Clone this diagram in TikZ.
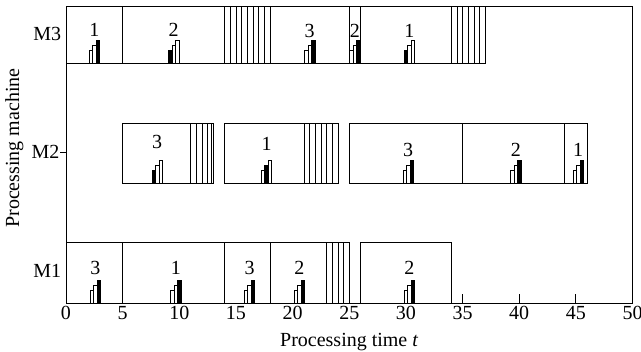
\documentclass[tikz,border=0pt]{standalone}
\usepackage{fontspec}
\setmainfont{Liberation Serif}
% Job mark: number above a small three-bar glyph, one bar filled.
% #1 name, #2 time centre, #3 row bottom, #4 job number, #5 filled bar, #6 label rise
\newcommand\jobmark[6]{%
  \node[lbl] (#1) at (#2,#3+#6) {#4};
  \begin{scope}[shift={(#2,#3)}, x=1pt]
    \foreach \i/\h in {1/13,2/18,3/23} {
      \pgfmathsetmacro\xl{-5.25+3.5*(\i-1)}
      \ifnum\i=#5\relax\def\fc{black}\else\def\fc{white}\fi
      \filldraw[barline, fill=\fc] (\xl,0) rectangle ++(3.5,\h);
    }
  \end{scope}
}
\begin{document}
\begin{tikzpicture}[x=11.33pt, y=1pt, line width=0.8pt,
  lbl/.style={font=\fontsize{20}{24}\selectfont, inner sep=0pt},
  barline/.style={line width=0.6pt},
  hatchline/.style={line width=0.7pt}]
\useasboundingbox (-5.825,-49) rectangle (50.75,303);

% axes frame and ticks
\draw (0,0) rectangle (50,297);
\foreach \t in {35,40,45} \draw (\t,0) -- (\t,9);
\draw (0,151) -- (-0.53,151);
\foreach \t in {0,5,...,50} \node[lbl] (tick\t) at (\t,-10.3) {\t};
\node[lbl, anchor=base] (xlabel) at (25,-44) {Processing time \textit{t}};
\node[lbl, rotate=90] (ylabel) at (-4.55,155) {Processing machine};
\node[lbl, anchor=east] (m3) at (-0.4,269) {M3};
\node[lbl, anchor=east] (m2) at (-0.55,151) {M2};
\node[lbl, anchor=east] (m1) at (-0.4,32) {M1};

% machine M3
\draw (0,240) rectangle (37,297);
\foreach \t in {5,18,25,26} \draw (\t,240) -- (\t,297);
\foreach \t in {14,14.5,...,18} \draw[hatchline] (\t,240) -- (\t,297);
\foreach \t in {34,34.5,...,37} \draw[hatchline] (\t,240) -- (\t,297);
\jobmark{a1}{2.5}{240}{1}{3}{33}
\jobmark{a2}{9.5}{240}{2}{1}{33}
\jobmark{a3}{21.5}{240}{3}{3}{32}
\jobmark{a4}{25.5}{240}{2}{3}{32}
\jobmark{a5}{30.3}{240}{1}{1}{32}

% machine M2
\draw (5,120) rectangle (13.05,180);
\foreach \t in {11,11.5,12,12.5,12.85} \draw[hatchline] (\t,120) -- (\t,180);
\draw (14,120) rectangle (24,180);
\foreach \t in {21,21.5,...,23.5} \draw[hatchline] (\t,120) -- (\t,180);
\draw (25,120) rectangle (46,180);
\foreach \t in {35,44} \draw (\t,120) -- (\t,180);
\jobmark{b1}{8.05}{120}{3}{1}{41}
\jobmark{b2}{17.7}{120}{1}{2}{39}
\jobmark{b3}{30.2}{120}{3}{3}{33}
\jobmark{b4}{39.7}{120}{2}{3}{33}
\jobmark{b5}{45.2}{120}{1}{3}{33}

% machine M1
\draw (0,0) rectangle (25,61);
\foreach \t in {5,14,18} \draw (\t,0) -- (\t,61);
\foreach \t in {23,23.5,...,25} \draw[hatchline] (\t,0) -- (\t,61);
\draw (26,0) rectangle (34,61);
\jobmark{c1}{2.6}{0}{3}{3}{35}
\jobmark{c2}{9.7}{0}{1}{3}{35}
\jobmark{c3}{16.2}{0}{3}{3}{35}
\jobmark{c4}{20.6}{0}{2}{3}{35}
\jobmark{c5}{30.3}{0}{2}{3}{35}
\end{tikzpicture}
\end{document}
